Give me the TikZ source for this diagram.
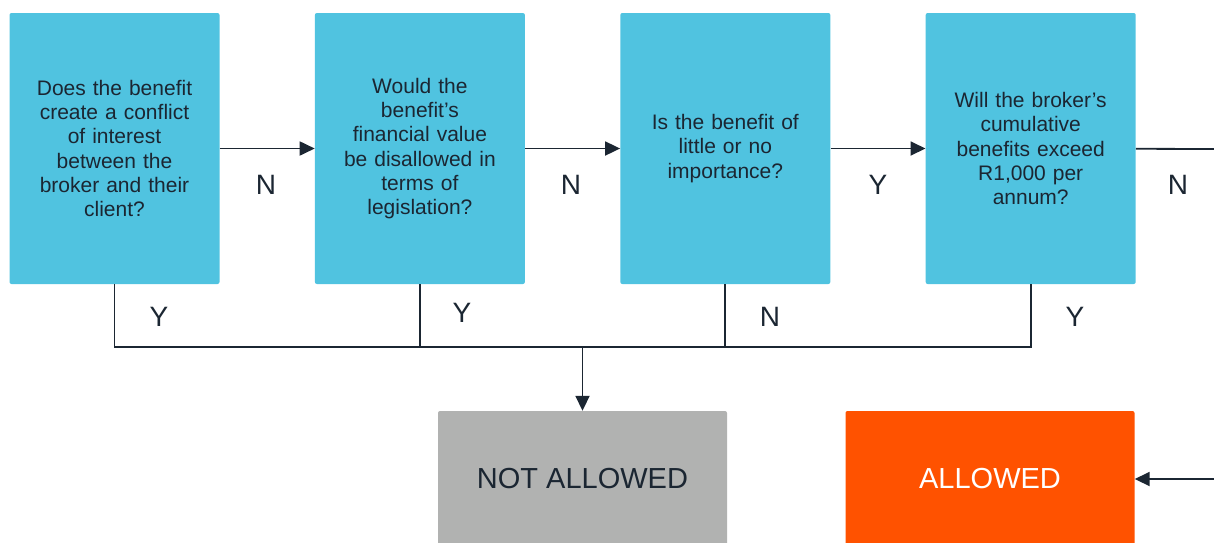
\documentclass[tikz,border=0pt]{standalone}
\usepackage{fontspec}
\setmainfont{Liberation Sans}
\usetikzlibrary{positioning,arrows.meta}

\definecolor{qblue}{HTML}{50C3E0}
\definecolor{ink}{HTML}{1B2632}
\definecolor{nogrey}{HTML}{B1B2B1}
\definecolor{okorange}{HTML}{FF5200}

\begin{document}
\begin{tikzpicture}[x=1pt,y=-1pt,
question/.style={rectangle,fill=qblue,rounded corners=2pt,minimum width=210pt,minimum height=271pt,
  text width=200pt,align=center,inner sep=0pt,text=ink,font=\fontsize{21}{24.2}\selectfont},
outcome/.style={rectangle,rounded corners=2pt,minimum width=289pt,minimum height=136pt,
  font=\fontsize{29}{34}\selectfont},
answer/.style={text=ink,font=\fontsize{28}{32}\selectfont},
link/.style={draw=ink,line width=1.8pt},
arrow/.style={link,-{Triangle[length=15pt,width=14pt]}},
node distance=95pt]
\useasboundingbox (0,0) rectangle (1214,542);
\clip (0,0) rectangle (1214,542);

    % the four questions
    \node[question] (Q1) at (114.5,148.5) {Does the benefit\\create a conflict\\of interest\\between the\\broker and their\\client?};
    \node[question] (Q2) [right=of Q1] {Would the\\benefit’s\\financial value\\be disallowed in\\terms of\\legislation?};
    \node[question] (Q3) [right=of Q2] {Is the benefit of\\little or no\\importance?};
    \node[question] (Q4) [right=of Q3] {Will the broker’s\\cumulative\\benefits exceed\\R1,000 per\\annum?};

    % outcomes
    \node[outcome,fill=nogrey,text=ink] (NotAllowed) at (582.5,479) {NOT ALLOWED};
    \node[outcome,fill=okorange,text=white] (Allowed) at (990,479) {ALLOWED};

    \coordinate (EdgeTop) at (1214,149);
    \coordinate (EdgeBottom) at (1214,479);
    \path (NotAllowed.north) ++(0,-64) coordinate (Bus);

    % answers along the top row
    \draw[arrow] (Q1) -- (Q2);
    \draw[arrow] (Q2) -- (Q3);
    \draw[arrow] (Q3) -- (Q4);
    \draw[link] (Q4) -- (EdgeTop);
    \draw[arrow] (EdgeBottom) -- (Allowed);
    \node[answer] (A12) at (266,185) {N};
    \node[answer] (A23) at (571,185) {N};
    \node[answer] (A34) at (878,185) {Y};
    \node[answer] (A4E) at (1178,185) {N};

    % answers leading down to NOT ALLOWED
    \draw[link] (Q1.south) |- (Bus) -| (Q4.south);
    \draw[link] (Q2.south) |- (Bus);
    \draw[link] (Q3.south) |- (Bus);
    \draw[arrow] (Bus) -- (NotAllowed);
    \node[answer] (A1) at (159,317) {Y};
    \node[answer] (A2) at (462,313) {Y};
    \node[answer] (A3) at (770,317) {N};
    \node[answer] (A4) at (1075,317) {Y};

\end{tikzpicture}
\end{document}
